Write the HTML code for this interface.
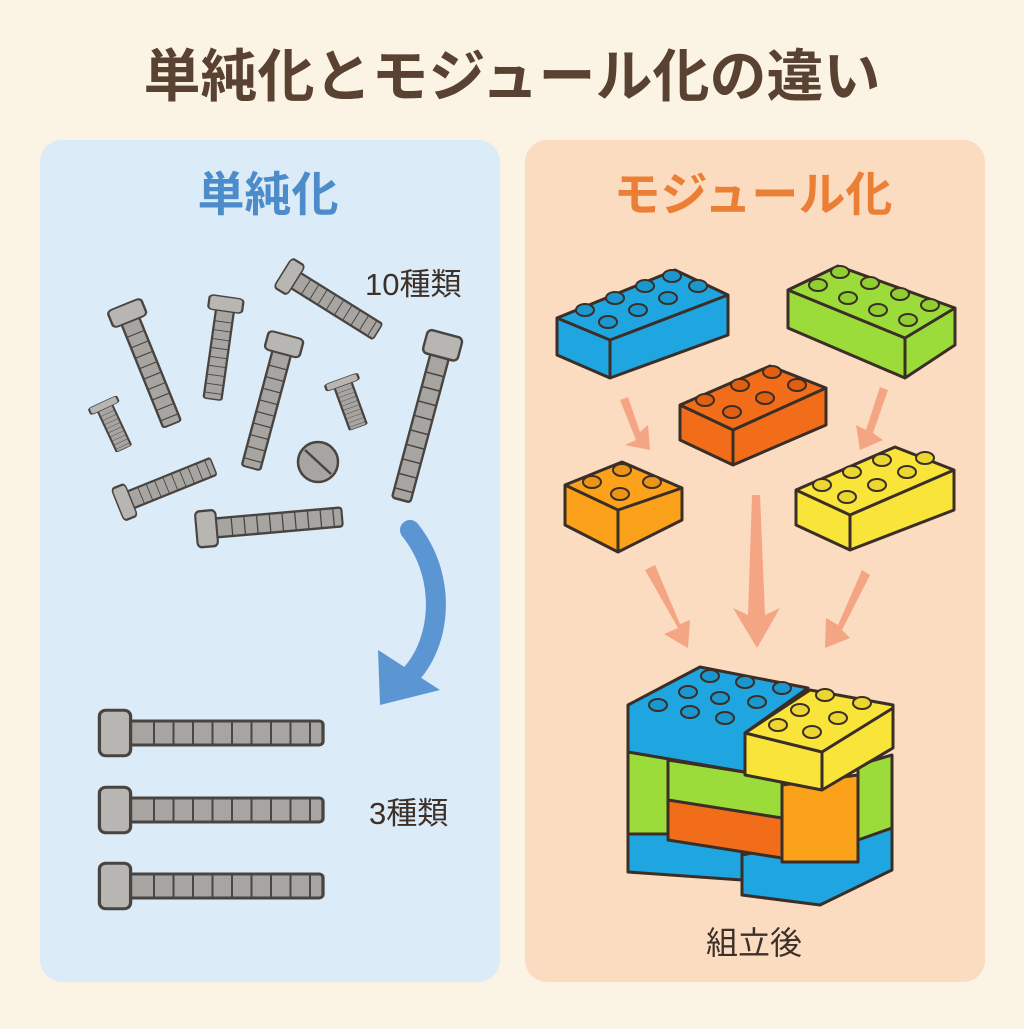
<!DOCTYPE html>
<html><head><meta charset="utf-8"><style>
html,body{margin:0;padding:0;background:#fbf3e3;}
body{width:1024px;height:1024px;overflow:hidden;font-family:"Liberation Sans","Noto Sans CJK JP",sans-serif;}
</style></head><body>
<svg width="1024" height="1024" viewBox="0 0 1024 1024" xmlns="http://www.w3.org/2000/svg" font-family="Liberation Sans, Noto Sans CJK JP, sans-serif">
<rect width="1024" height="1024" fill="#fbf3e3"/>
<text x="512" y="96" text-anchor="middle" font-size="57" font-weight="bold" fill="#5a4232">単純化とモジュール化の違い</text>
<rect x="40" y="140" width="460" height="842" rx="22" fill="#dbebf8"/>
<rect x="525" y="140" width="460" height="842" rx="22" fill="#fbdcc0"/>
<text x="268" y="211" text-anchor="middle" font-size="47" font-weight="bold" fill="#4c8cca">単純化</text>
<text x="753" y="211" text-anchor="middle" font-size="47" font-weight="bold" fill="#ec7f36">モジュール化</text>
<text x="365" y="295" font-size="31" fill="#3d3028">10種類</text>
<text x="369" y="824" font-size="31" fill="#3d3028">3種類</text>
<text x="754" y="954" text-anchor="middle" font-size="32" fill="#3d3028">組立後</text>

<defs>
<g id="scr" stroke="#4a4440" stroke-width="2.5" fill="#a7a5a2">
<rect x="0" y="-10" width="150" height="20" rx="3"/>
<path d="M20 -10 L20 10 M35 -10 L35 10 M50 -10 L50 10 M65 -10 L65 10 M80 -10 L80 10 M95 -10 L95 10 M110 -10 L110 10 M125 -10 L125 10 M140 -10 L140 10" stroke-width="1.5"/>
<rect x="-22" y="-19" width="24" height="38" rx="5" fill="#b8b6b2"/>
</g>
</defs>
<use href="#scr" transform="translate(130,320) rotate(68) scale(0.75,0.95)"/>
<use href="#scr" transform="translate(225,310) rotate(98) scale(0.6,0.9)"/>
<use href="#scr" transform="translate(295,280) rotate(32) scale(0.65,0.9)"/>
<use href="#scr" transform="translate(282,352) rotate(105) scale(0.8,0.95)"/>
<use href="#scr" transform="translate(105,408) rotate(65) scale(0.3,0.8)"/>
<use href="#scr" transform="translate(343,385) rotate(70) scale(0.3,0.9)"/>
<use href="#scr" transform="translate(440,355) rotate(105) scale(1.0,0.95)"/>
<use href="#scr" transform="translate(130,500) rotate(-22) scale(0.6,0.9)"/>
<use href="#scr" transform="translate(215,528) rotate(-5) scale(0.85,0.95)"/>
<circle cx="318" cy="462" r="20" fill="#a7a5a2" stroke="#4a4440" stroke-width="2.5"/>
<line x1="305" y1="450" x2="331" y2="474" stroke="#4a4440" stroke-width="2.5"/>
<path d="M410 530 C450 580 440 650 405 680" fill="none" stroke="#5b95d2" stroke-width="20" stroke-linecap="round"/>
<polygon points="378,650 440,690 380,705" fill="#5b95d2"/>
<use href="#scr" transform="translate(128,733) scale(1.3,1.2)"/>
<use href="#scr" transform="translate(128,810) scale(1.3,1.2)"/>
<use href="#scr" transform="translate(128,886) scale(1.3,1.2)"/>

<g fill="#f4a584" stroke="none">
<path d="M620 400 L636 440 L625 445 L650 450 L648 425 L640 432 L628 397Z"/>
<path d="M880 387 L866 430 L856 425 L860 450 L883 440 L873 433 L888 390Z"/>
<path d="M645 570 L678 628 L664 634 L688 648 L690 620 L680 624 L655 565Z"/>
<path d="M752 495 L748 615 L733 608 L757 648 L780 608 L765 615 L760 495Z"/>
<path d="M862 570 L838 625 L826 618 L825 648 L850 638 L842 630 L870 575Z"/>
</g>

<g stroke="#3b2e26" stroke-width="3" stroke-linejoin="round">
<polygon points="557,318 675,270 728,295 728,335 610,378 557,355" fill="#1fa6e0"/>
<polyline points="557,318 610,340 728,295" fill="none"/><line x1="610" y1="340" x2="610" y2="378"/>
<polygon points="788,290 838,266 955,308 955,345 905,378 788,328" fill="#9cdc3a"/>
<polyline points="788,290 905,338 955,308" fill="none"/><line x1="905" y1="338" x2="905" y2="378"/>
<polygon points="680,405 770,366 826,388 826,425 733,465 680,440" fill="#f26d1a"/>
<polyline points="680,405 733,430 826,388" fill="none"/><line x1="733" y1="430" x2="733" y2="465"/>
<polygon points="565,485 622,462 682,488 682,520 618,552 565,525" fill="#fba21a"/>
<polyline points="565,485 618,510 682,488" fill="none"/><line x1="618" y1="510" x2="618" y2="552"/>
<polygon points="796,490 895,447 954,470 954,510 850,550 796,525" fill="#f9e43a"/>
<polyline points="796,490 850,515 954,470" fill="none"/><line x1="850" y1="515" x2="850" y2="550"/>
</g>
<g stroke="#3b2e26" stroke-width="2">
<g fill="#1b97cf"><ellipse cx="585" cy="310" rx="9" ry="6"/><ellipse cx="615" cy="298" rx="9" ry="6"/><ellipse cx="645" cy="286" rx="9" ry="6"/><ellipse cx="672" cy="276" rx="9" ry="6"/><ellipse cx="608" cy="322" rx="9" ry="6"/><ellipse cx="638" cy="310" rx="9" ry="6"/><ellipse cx="668" cy="298" rx="9" ry="6"/><ellipse cx="698" cy="286" rx="9" ry="6"/></g>
<g fill="#8fd030"><ellipse cx="818" cy="285" rx="9" ry="6"/><ellipse cx="840" cy="272" rx="9" ry="6"/><ellipse cx="870" cy="283" rx="9" ry="6"/><ellipse cx="900" cy="294" rx="9" ry="6"/><ellipse cx="848" cy="298" rx="9" ry="6"/><ellipse cx="878" cy="310" rx="9" ry="6"/><ellipse cx="908" cy="320" rx="9" ry="6"/><ellipse cx="930" cy="305" rx="9" ry="6"/></g>
<g fill="#e0600f"><ellipse cx="705" cy="400" rx="9" ry="6"/><ellipse cx="740" cy="385" rx="9" ry="6"/><ellipse cx="772" cy="372" rx="9" ry="6"/><ellipse cx="732" cy="412" rx="9" ry="6"/><ellipse cx="765" cy="398" rx="9" ry="6"/><ellipse cx="797" cy="385" rx="9" ry="6"/></g>
<g fill="#ee9414"><ellipse cx="592" cy="482" rx="9" ry="6"/><ellipse cx="622" cy="470" rx="9" ry="6"/><ellipse cx="620" cy="494" rx="9" ry="6"/><ellipse cx="652" cy="482" rx="9" ry="6"/></g>
<g fill="#ecd630"><ellipse cx="822" cy="485" rx="9" ry="6"/><ellipse cx="852" cy="472" rx="9" ry="6"/><ellipse cx="882" cy="460" rx="9" ry="6"/><ellipse cx="847" cy="497" rx="9" ry="6"/><ellipse cx="877" cy="485" rx="9" ry="6"/><ellipse cx="907" cy="472" rx="9" ry="6"/><ellipse cx="925" cy="458" rx="9" ry="6"/></g>
</g>

<g stroke="#3b2e26" stroke-width="3" stroke-linejoin="round">
<polygon points="628,830 742,838 742,880 628,872" fill="#1fa6e0"/>
<polygon points="742,855 892,825 892,870 820,905 742,895" fill="#1fa6e0"/>
<rect x="628" y="752" width="40" height="82" fill="#9cdc3a"/>
<polygon points="668,760 782,778 782,822 668,805" fill="#9cdc3a"/>
<polygon points="668,800 782,818 782,858 668,840" fill="#f26d1a"/>
<polygon points="782,785 858,775 858,862 782,862" fill="#fba21a"/>
<polygon points="858,765 892,755 892,828 858,840" fill="#9cdc3a"/>
<polygon points="628,705 700,667 808,688 745,733 745,772 628,752" fill="#1fa6e0"/>
<polygon points="745,733 810,690 893,705 893,748 822,790 745,775" fill="#f9e43a"/>
<polyline points="745,733 822,752 893,708" fill="none"/><line x1="822" y1="752" x2="822" y2="790"/>
</g>
<g stroke="#3b2e26" stroke-width="2">
<g fill="#1b97cf"><ellipse cx="658" cy="705" rx="9" ry="6"/><ellipse cx="688" cy="692" rx="9" ry="6"/><ellipse cx="710" cy="676" rx="9" ry="6"/><ellipse cx="690" cy="712" rx="9" ry="6"/><ellipse cx="720" cy="698" rx="9" ry="6"/><ellipse cx="745" cy="682" rx="9" ry="6"/><ellipse cx="725" cy="718" rx="9" ry="6"/><ellipse cx="757" cy="702" rx="9" ry="6"/><ellipse cx="782" cy="688" rx="9" ry="6"/></g>
<g fill="#ecd630"><ellipse cx="778" cy="725" rx="9" ry="6"/><ellipse cx="800" cy="710" rx="9" ry="6"/><ellipse cx="825" cy="695" rx="9" ry="6"/><ellipse cx="812" cy="732" rx="9" ry="6"/><ellipse cx="838" cy="718" rx="9" ry="6"/><ellipse cx="862" cy="703" rx="9" ry="6"/></g>
</g>
</svg>
</body></html>
